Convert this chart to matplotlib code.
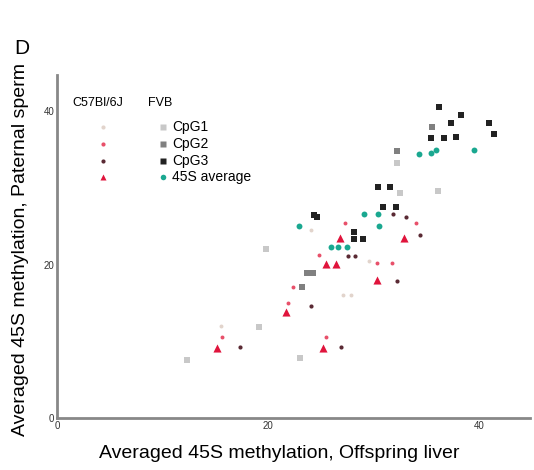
import numpy as np
import matplotlib
matplotlib.use('Agg')
import matplotlib.pyplot as plt

plt.rcParams['font.family'] = ['Liberation Sans', 'DejaVu Sans']

# FVB series (squares / teal average)
fvb_cpg1_x = [19.8, 19.1, 36.1, 32.5, 32.2, 12.3, 23.0]
fvb_cpg1_y = [22.0, 11.8, 29.6, 29.3, 33.2, 7.6, 7.8]
fvb_cpg2_x = [23.7, 24.2, 23.2, 35.5, 32.2]
fvb_cpg2_y = [18.9, 18.9, 17.1, 37.9, 34.8]
fvb_cpg3_x = [36.2, 38.2, 37.3, 40.9, 41.4, 37.8, 35.4, 36.6, 30.4, 31.5,
              24.3, 24.6, 30.9, 32.1, 28.1, 29.0, 28.1]
fvb_cpg3_y = [40.5, 39.5, 38.4, 38.4, 37.0, 36.6, 36.5, 36.5, 30.1, 30.1,
              26.4, 26.2, 27.5, 27.5, 23.3, 23.3, 24.2]
fvb_avg_x = [34.3, 35.4, 35.9, 39.5, 22.9, 29.1, 30.4, 30.5, 25.9, 26.6, 27.4]
fvb_avg_y = [34.4, 34.5, 34.9, 34.9, 25.0, 26.6, 26.6, 25.0, 22.3, 22.3, 22.3]

# C57Bl/6J series (small dots / red triangles)
c57_cpg1_x = [27.1, 27.8, 24.0, 15.5, 29.5]
c57_cpg1_y = [16.0, 16.0, 24.5, 12.0, 20.5]
c57_cpg2_x = [27.3, 24.8, 30.3, 31.7, 34.0, 22.3, 21.9, 15.6, 25.5]
c57_cpg2_y = [25.4, 21.2, 20.2, 20.2, 25.4, 17.1, 15.0, 10.5, 10.5]
c57_cpg3_x = [27.5, 28.2, 31.8, 33.0, 17.3, 26.9, 24.0, 34.4, 32.2]
c57_cpg3_y = [21.1, 21.1, 26.6, 26.2, 9.2, 9.2, 14.6, 23.8, 17.8]
c57_avg_x = [26.8, 25.5, 26.4, 30.3, 32.8, 21.7, 15.1, 25.2]
c57_avg_y = [23.4, 20.1, 20.1, 18.0, 23.4, 13.8, 9.1, 9.1]

labels = ['CpG1', 'CpG2', 'CpG3', '45S average']
c57_colors = ['#e2d4cc', '#e8506a', '#5a2a34', '#e0143c']
fvb_colors = ['#c8c8c8', '#808080', '#222222', '#1aa890']

fig = plt.figure(figsize=(5.34, 4.70), dpi=100)
ax = fig.add_axes([0.107, 0.111, 0.886, 0.729])

series = [
    (fvb_cpg1_x, fvb_cpg1_y, fvb_colors[0], 's', 14),
    (fvb_cpg2_x, fvb_cpg2_y, fvb_colors[1], 's', 14),
    (fvb_cpg3_x, fvb_cpg3_y, fvb_colors[2], 's', 16),
    (fvb_avg_x, fvb_avg_y, fvb_colors[3], 'o', 18),
    (c57_cpg1_x, c57_cpg1_y, c57_colors[0], 'o', 8),
    (c57_cpg2_x, c57_cpg2_y, c57_colors[1], 'o', 8),
    (c57_cpg3_x, c57_cpg3_y, c57_colors[2], 'o', 9),
    (c57_avg_x, c57_avg_y, c57_colors[3], '^', 34),
]
for xs, ys, c, m, s in series:
    ax.scatter(xs, ys, c=c, marker=m, s=s, linewidths=0, zorder=3)

ax.set_xlim(0, 44.8)
ax.set_ylim(0, 44.7)
ax.set_xticks([0, 20, 40])
ax.set_yticks([0, 20, 40])
ax.tick_params(length=0, labelsize=7, colors='#333333', pad=2)
for side in ['top', 'right']:
    ax.spines[side].set_visible(False)
for side in ['left', 'bottom']:
    ax.spines[side].set_color('#888888')
    ax.spines[side].set_linewidth(2)

ax.set_xlabel('Averaged 45S methylation, Offspring liver', fontsize=14)
ax.set_ylabel('Averaged 45S methylation, Paternal sperm', fontsize=14)
ax.xaxis.set_label_coords(0.47, -0.078)
ax.yaxis.set_label_coords(-0.06, 0.49)

# hand-made legend
ax.text(0.032, 0.918, 'C57Bl/6J', transform=ax.transAxes, fontsize=9, va='center')
ax.text(0.192, 0.918, 'FVB', transform=ax.transAxes, fontsize=9, va='center')
rows = [0.848, 0.800, 0.751, 0.702]
c57_markers = ['o', 'o', 'o', '^']
c57_sizes = [3, 3, 3, 5]
for i, lab in enumerate(labels):
    ax.plot(0.097, rows[i], marker=c57_markers[i], ms=c57_sizes[i], color=c57_colors[i],
            mec='none', transform=ax.transAxes, clip_on=False)
    ax.plot(0.224, rows[i], marker='s' if i < 3 else 'o', ms=4, color=fvb_colors[i],
            mec='none', transform=ax.transAxes, clip_on=False)
    ax.text(0.243, rows[i], lab, transform=ax.transAxes, fontsize=10, va='center')

fig.text(0.026, 0.885, 'D', fontsize=15)

fig.savefig('out.png', dpi=100)
